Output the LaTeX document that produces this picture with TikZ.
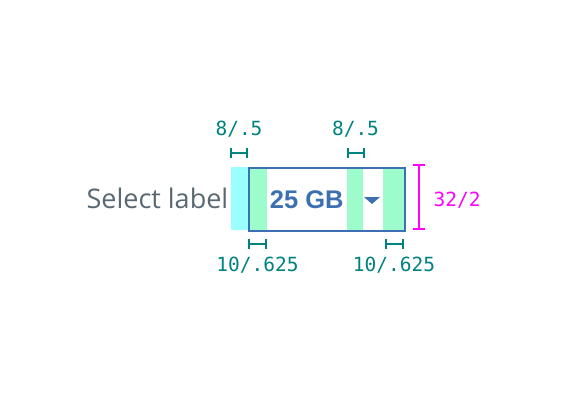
\documentclass[tikz,border=0pt]{standalone}
\usepackage{fontspec}
\setmainfont{Open Sans}
\newfontfamily\boldsans{Liberation Sans}
\newfontfamily\monof{DejaVu Sans Mono}
\definecolor{cyanfill}{HTML}{99FFFF}
\definecolor{mint}{HTML}{9CFCCC}
\definecolor{boxblue}{HTML}{3D70B2}
\definecolor{tealc}{HTML}{00827F}
\definecolor{magc}{HTML}{FF00FF}
\definecolor{labelgray}{HTML}{5A6872}
\tikzset{
  dimteal/.style={draw=tealc, line width=2pt},
  dimmag/.style={draw=magc, line width=2pt},
  monolabel/.style={font=\monof\fontsize{19.5}{21}\selectfont, inner sep=0pt, anchor=base},
}
\begin{document}
\begin{tikzpicture}[x=1pt,y=-1pt]
\useasboundingbox (0,0) rectangle (580,400);
% fills
\fill[cyanfill] (231,167) rectangle (248,230);
\fill[mint] (248,167) rectangle (267,230);
\fill[mint] (347,167) rectangle (363,230);
\fill[mint] (383,167) rectangle (404,230);
% select box
\node[draw=boxblue, line width=1.5pt, minimum width=156pt, minimum height=63pt, inner sep=0pt, anchor=north west] (box) at (248,167) {};
\node[font=\boldsans\bfseries\fontsize{25.5}{27}\selectfont, text=boxblue, inner sep=0pt, anchor=base] (val) at (306.7,208) {25 GB};
\coordinate (arrow) at (372,200.5);
\fill[boxblue] ([xshift=-8,yshift=3.5]arrow) -- ([xshift=8,yshift=3.5]arrow) -- ([yshift=-3.5]arrow) -- cycle;
\node[font=\fontsize{27}{29}\selectfont, text=labelgray, inner sep=0pt, anchor=base east] (lab) at (228.5,208.3) {Select label};
% top dims
\coordinate (t1a) at (231,153); \coordinate (t1b) at (247,153);
\draw[dimteal] (t1a) -- (t1b);
\draw[dimteal] ([yshift=-5]t1a) -- ([yshift=5]t1a);
\draw[dimteal] ([yshift=-5]t1b) -- ([yshift=5]t1b);
\node[monolabel, text=tealc] (l8a) at (239,135.7) {8/.5};
\coordinate (t2a) at (347.5,153); \coordinate (t2b) at (363.5,153);
\draw[dimteal] (t2a) -- (t2b);
\draw[dimteal] ([yshift=-5]t2a) -- ([yshift=5]t2a);
\draw[dimteal] ([yshift=-5]t2b) -- ([yshift=5]t2b);
\node[monolabel, text=tealc] (l8b) at (355.5,135.7) {8/.5};
% bottom dims
\coordinate (b1a) at (249,244); \coordinate (b1b) at (266,244);
\draw[dimteal] (b1a) -- (b1b);
\draw[dimteal] ([yshift=-5]b1a) -- ([yshift=5]b1a);
\draw[dimteal] ([yshift=-5]b1b) -- ([yshift=5]b1b);
\node[monolabel, text=tealc] (l10a) at (257.5,271.7) {10/.625};
\coordinate (b2a) at (385.5,244); \coordinate (b2b) at (402.5,244);
\draw[dimteal] (b2a) -- (b2b);
\draw[dimteal] ([yshift=-5]b2a) -- ([yshift=5]b2a);
\draw[dimteal] ([yshift=-5]b2b) -- ([yshift=5]b2b);
\node[monolabel, text=tealc] (l10b) at (394,271.7) {10/.625};
% height dim
\coordinate (hA) at (419,165); \coordinate (hB) at (419,229);
\draw[dimmag] (hA) -- (hB);
\draw[dimmag] ([xshift=-6]hA) -- ([xshift=6]hA);
\draw[dimmag] ([xshift=-6]hB) -- ([xshift=6]hB);
\node[monolabel, text=magc, anchor=base west] (l32) at (433.5,206.7) {32/2};
\end{tikzpicture}
\end{document}
